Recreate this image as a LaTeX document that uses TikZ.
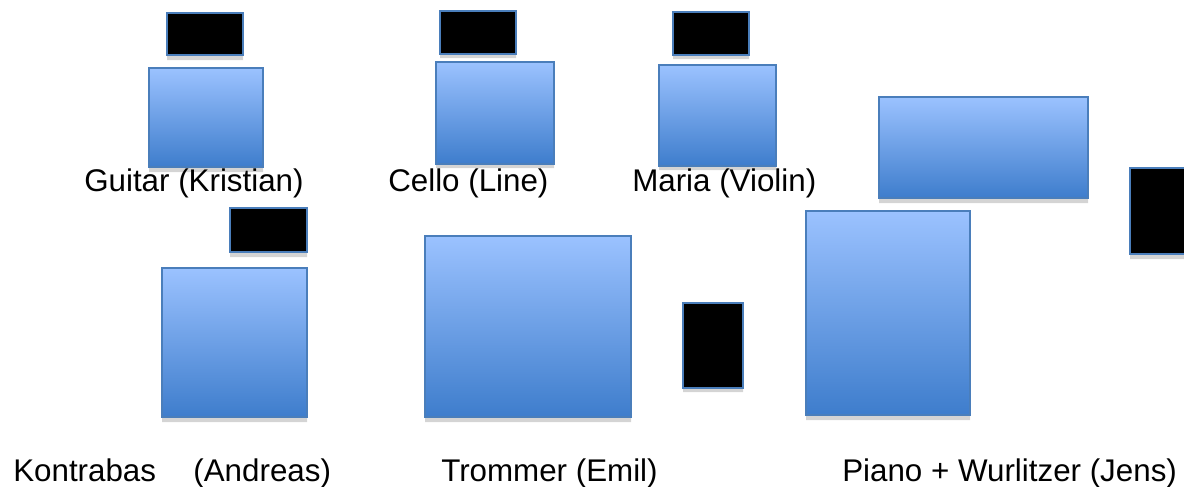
\documentclass[tikz,border=0pt]{standalone}
\usepackage{fontspec}
\setmainfont{Liberation Sans}
\definecolor{boxtop}{RGB}{155,194,255}
\definecolor{boxbottom}{RGB}{62,125,204}
\definecolor{boxedge}{RGB}{74,126,187}
\definecolor{shadowgray}{RGB}{212,212,212}
\tikzset{
  bluebox/.style={draw=boxedge, line width=1.5pt, top color=boxtop, bottom color=boxbottom},
  blackbox/.style={draw=boxedge, line width=1.5pt, fill=black},
  boxshadow/.style={fill=shadowgray},
  label/.style={inner sep=0pt, anchor=base west, font=\fontsize{23.5}{28}\selectfont},
}
\begin{document}
\begin{tikzpicture}[x=0.75pt, y=-0.75pt]
		\useasboundingbox (0,0) rectangle (1184,486);
		% shadows
		\fill[boxshadow] (167,17) rectangle (243,60) (440,15) rectangle (516,58) (673,16) rectangle (749,59);
		\fill[boxshadow] (149,72) rectangle (263,172) (436,66) rectangle (554,168) (659,69) rectangle (776,170);
		\fill[boxshadow] (879,101) rectangle (1088,203) (1130,172) rectangle (1190,259);
		\fill[boxshadow] (230,212) rectangle (307,257) (162,272) rectangle (307,422);
		\fill[boxshadow] (425,240) rectangle (631,422) (683,307) rectangle (743,392) (806,215) rectangle (970,420);
		% top row
		\draw[blackbox] (167,13) rectangle (243,55);
		\draw[blackbox] (440,11) rectangle (516,54);
		\draw[blackbox] (673,12) rectangle (749,55);
		\draw[bluebox] (149,68) rectangle (263,167);
		\draw[bluebox] (436,62) rectangle (554,164);
		\draw[bluebox] (659,65) rectangle (776,166);
		\draw[bluebox] (879,97) rectangle (1088,198);
		\draw[blackbox] (1130,168) rectangle (1190,254);
		% bottom row
		\draw[blackbox] (230,208) rectangle (307,252);
		\draw[bluebox] (162,268) rectangle (307,417);
		\draw[bluebox] (425,236) rectangle (631,417);
		\draw[blackbox] (683,303) rectangle (743,388);
		\draw[bluebox] (806,211) rectangle (970,415);
		% names
		\node[label] (guitar) at (84,191) {Guitar (Kristian)};
		\node[label] (cello) at (388,191) {Cello (Line)};
		\node[label] (maria) at (632,191) {Maria (Violin)};
		\node[label] (kontrabas) at (13,481) {Kontrabas\hspace*{28pt}(Andreas)};
		\node[label] (trommer) at (441,481) {Trommer (Emil)};
		\node[label] (piano) at (842,481) {Piano + Wurlitzer (Jens)};
\end{tikzpicture}
\end{document}
